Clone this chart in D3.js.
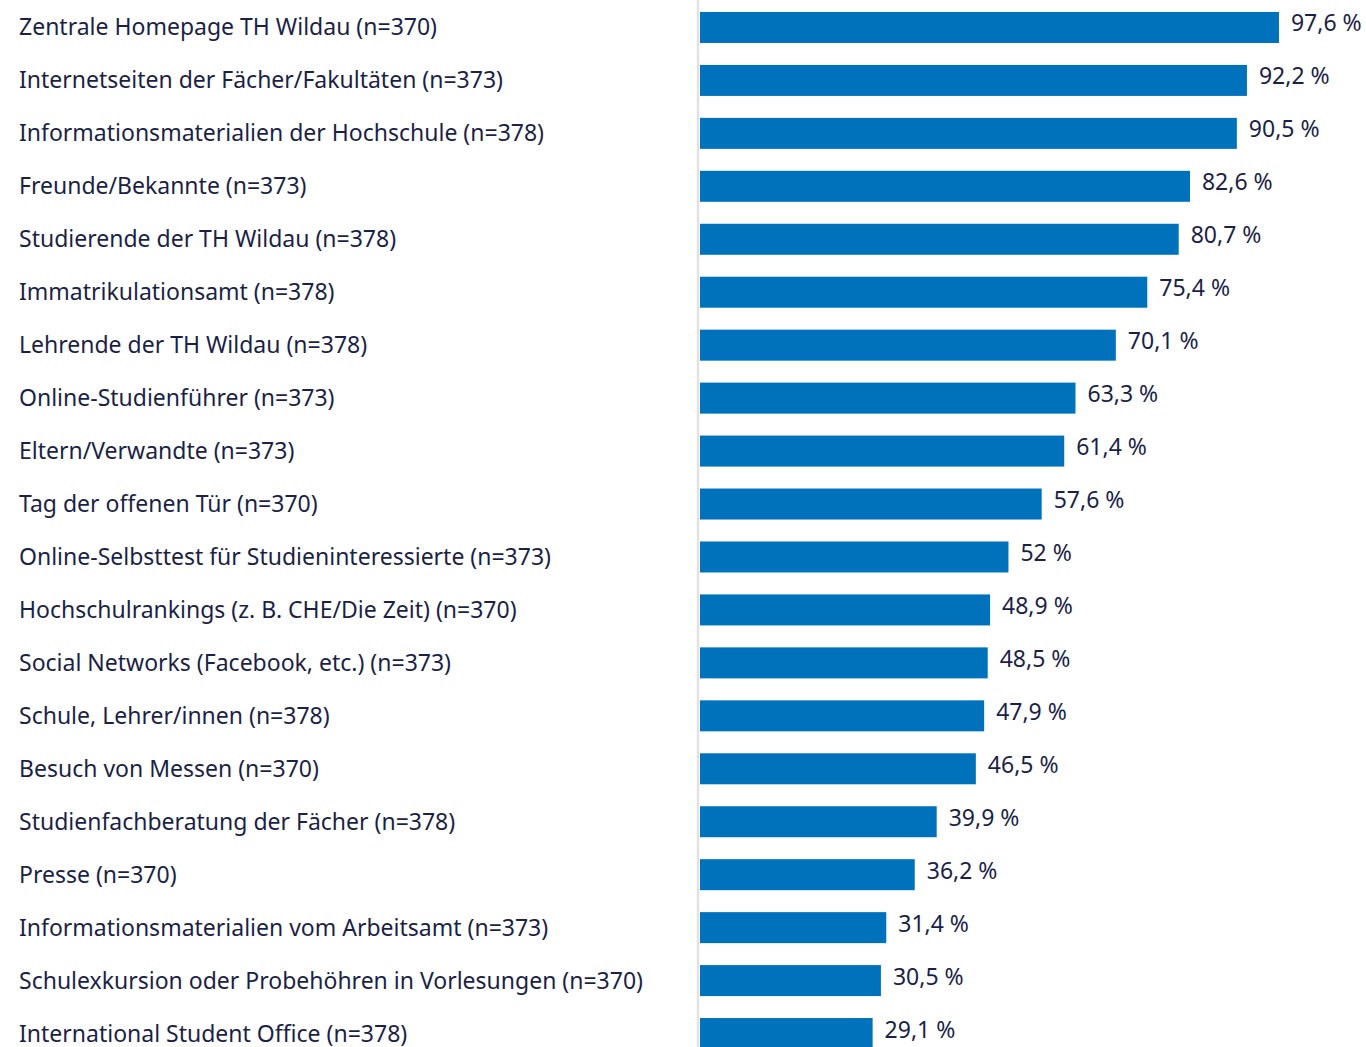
<!DOCTYPE html>
<html>
<head>
<meta charset="utf-8">
<script src="https://cdn.jsdelivr.net/npm/d3@7"></script>
<style>
  body { margin: 0; background: #fff; }
  text { font-family: "Noto Sans", sans-serif; fill: #1c1f48; }
</style>
</head>
<body>
<svg id="chart"></svg>
<script>
// Categories (top to bottom)
const categories = [
    "Zentrale Homepage TH Wildau (n=370)",
    "Internetseiten der Fächer/Fakultäten (n=373)",
    "Informationsmaterialien der Hochschule (n=378)",
    "Freunde/Bekannte (n=373)",
    "Studierende der TH Wildau (n=378)",
    "Immatrikulationsamt (n=378)",
    "Lehrende der TH Wildau (n=378)",
    "Online-Studienführer (n=373)",
    "Eltern/Verwandte (n=373)",
    "Tag der offenen Tür (n=370)",
    "Online-Selbsttest für Studieninteressierte (n=373)",
    "Hochschulrankings (z. B. CHE/Die Zeit) (n=370)",
    "Social Networks (Facebook, etc.) (n=373)",
    "Schule, Lehrer/innen (n=378)",
    "Besuch von Messen (n=370)",
    "Studienfachberatung der Fächer (n=378)",
    "Presse (n=370)",
    "Informationsmaterialien vom Arbeitsamt (n=373)",
    "Schulexkursion oder Probehöhren in Vorlesungen (n=370)",
    "International Student Office (n=378)"
];

// Share in percent
const values = [97.6, 92.2, 90.5, 82.6, 80.7, 75.4, 70.1, 63.3, 61.4, 57.6,
                52, 48.9, 48.5, 47.9, 46.5, 39.9, 36.2, 31.4, 30.5, 29.1];

const width = 1366, height = 1047;

let svg = d3.select("#chart")
    .attr("width", width)
    .attr("height", height);

//Where the bars start and the scale of one percent
let barLeft = 700;

let xScale = d3.scaleLinear()
    .domain([0, 100])
    .range([barLeft, barLeft + 593.2]);

let yScale = d3.scaleBand()
    .domain(categories)
    .range([1, 1060])
    .paddingInner(0.4145)
    .paddingOuter(0.207);

let data = categories.map((c, i) => ({ label: c, value: values[i] }));

//German number format with comma
let fmt = v => d3.format(".1~f")(v).replace(".", ",") + " %";

//light vertical base line
svg.append("line")
    .attr("x1", 698).attr("x2", 698)
    .attr("y1", 0).attr("y2", height)
    .attr("stroke", "#e2e2e2")
    .attr("stroke-width", 2.5);

//bars
svg.selectAll("rect.bar")
    .data(data)
    .join("rect")
    .attr("class", "bar")
    .attr("x", xScale(0))
    .attr("y", d => yScale(d.label))
    .attr("width", d => xScale(d.value) - xScale(0))
    .attr("height", yScale.bandwidth())
    .attr("fill", "#0072bc");

//category labels
svg.selectAll("text.cat")
    .data(data)
    .join("text")
    .attr("class", "cat")
    .attr("x", 19)
    .attr("y", d => yScale(d.label) + yScale.bandwidth() / 2 + 8)
    .attr("font-size", "23px")
    .text(d => d.label);

//value labels
svg.selectAll("text.val")
    .data(data)
    .join("text")
    .attr("class", "val")
    .attr("x", d => xScale(d.value) + 12)
    .attr("y", d => yScale(d.label) + yScale.bandwidth() / 2 + 4)
    .attr("font-size", "23px")
    .text(d => fmt(d.value));
</script>
</body>
</html>
